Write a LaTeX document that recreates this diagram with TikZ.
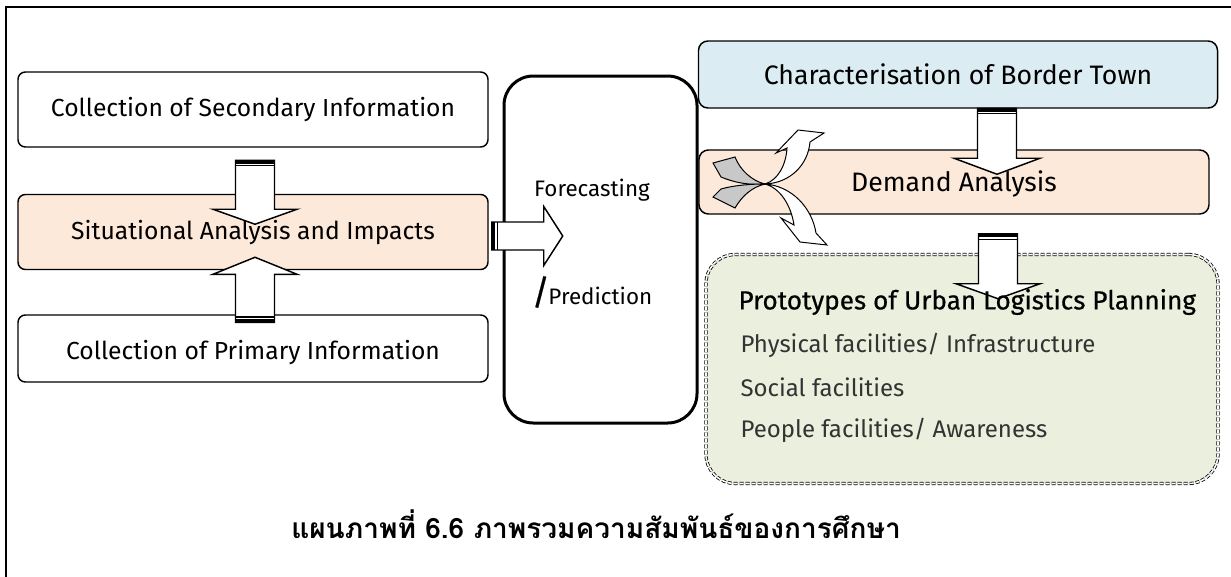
\documentclass[tikz,border=0pt]{standalone}
\usepackage{fontspec}
\setmainfont{Fira Sans}
\newfontfamily\thaifont[Script=Thai]{Loma}
\newfontfamily\headfont[FakeBold=0.6]{Fira Sans}
\usetikzlibrary{calc}

\definecolor{peach}{RGB}{253,233,218}
\definecolor{paleblue}{RGB}{219,237,243}
\definecolor{palegreen}{RGB}{235,239,222}
\definecolor{tailgray}{RGB}{200,200,200}

\tikzset{every picture/.style={line width=0.75pt}}
\tikzset{
  box/.style={draw, rounded corners=5.5pt, line width=1.1pt, inner sep=0pt},
  boxtext/.style={inner sep=0.75pt, font=\fontsize{18.5}{21}\selectfont},
  listtext/.style={anchor=west, inner sep=0.75pt, text=black!80, font=\fontsize{18}{21}\selectfont},
  pics/fatarrow/.style n args={4}{code={
    \draw[fill=white, line width=1.1pt] (0,-#2) -- ({#1-#4},-#2) -- ({#1-#4},-#3) -- (#1,0)
      -- ({#1-#4},#3) -- ({#1-#4},#2) -- (0,#2) -- cycle;
    \fill (0,-#2) rectangle (3.5,#2);
    \draw[line width=1.1pt] (5.5,-#2) -- (5.5,#2);
  }}
}

\begin{document}
\begin{tikzpicture}[x=0.75pt,y=0.75pt,yscale=-1,xscale=1]
\useasboundingbox (0,0) rectangle (1231,576);

%Frame
\draw[line width=1.1pt] (6,620) -- (6,7) -- (1260,7);

%Left column
\node[box, minimum width=352.5pt, minimum height=56.25pt] (sec) at (253,109.5) {};
\node[box, fill=peach, minimum width=352.5pt, minimum height=56.25pt] (sit) at (253,232) {};
\node[box, minimum width=352.5pt, minimum height=50.25pt] (prim) at (253,348.5) {};
%Forecasting
\node[draw, rounded corners=22pt, line width=2.25pt, minimum width=144.75pt, minimum height=260.25pt] (fore) at (600.5,249.5) {};
%Right column
\node[box, rounded corners=7pt, fill=paleblue, minimum width=389.25pt, minimum height=50.25pt] (char) at (958,74.5) {};
\node[box, rounded corners=7pt, fill=peach, minimum width=382.5pt, minimum height=48pt] (dem) at (954,182) {};
\node[draw, rounded corners=22pt, fill=palegreen, line width=0.6pt, double=white, double distance=1.2pt,
  dash pattern=on 3pt off 1.5pt, minimum width=384pt, minimum height=171.75pt] (proto) at (962,369) {};

%Curved arrows, back side
\draw[fill=tailgray] (735,157) -- (713,163) -- (721,177) .. controls (738,184) and (752,185) .. (765,184)
  .. controls (752,181) and (740,170) .. (735,157) -- cycle;
\draw[fill=tailgray] (721,189) -- (713,197) -- (735,208) .. controls (742,196) and (752,187) .. (765,184)
  .. controls (752,184) and (735,185) .. (721,189) -- cycle;
%Curved arrows, front side
\draw[fill=white] (765,184) .. controls (778,180) and (786,165) .. (787,148) -- (776,153) -- (798,130)
  -- (824,133) -- (810,142) .. controls (808,165) and (790,183) .. (765,184) -- cycle;
\draw[fill=white] (765,184) .. controls (780,188) and (791,205) .. (794,225) -- (781,218) -- (800,242)
  -- (827,245) -- (816,233) .. controls (812,208) and (792,186) .. (765,184) -- cycle;

%Block arrows
\pic[rotate=-90] at ($(sec.south)+(2,12.5)$) {fatarrow={64}{19.5}{42}{15}};
\pic[rotate=90] at ($(prim.north)+(2,8)$) {fatarrow={65}{19.5}{42}{17}};
\pic at ($(sit.east)+(3,4)$) {fatarrow={71}{14}{29.5}{19}};
\pic[rotate=-90] at ($(char.south)+(39,-0.5)$) {fatarrow={66}{19.5}{43}{16}};
\pic[rotate=-90] at ($(dem.south)+(44,19)$) {fatarrow={65}{19.5}{42}{15}};

%Texts
\node[boxtext] (sectext) at (sec) {Collection of Secondary Information};
\node[boxtext] (sittext) at (sit) {Situational Analysis and Impacts};
\node[boxtext] (primtext) at (253,352) {Collection of Primary Information};
\node[boxtext, font=\fontsize{16.8}{19}\selectfont] (foretop) at (592,190) {Forecasting};
\node[boxtext, font=\fontsize{16.8}{19}\selectfont] (forebot) at (592,292) {{\headfont\fontsize{26}{26}\selectfont/}\kern-1pt Prediction};
\node[boxtext, font=\fontsize{20}{23}\selectfont] (chartext) at (char) {Characterisation of Border Town};
\node[boxtext, font=\fontsize{20}{23}\selectfont] (demtext) at (954,184) {Demand Analysis};
\node[listtext, text=black, font=\headfont\fontsize{19.6}{22}\selectfont] (protohead) at (737,302) {Prototypes of Urban Logistics Planning};
\node[listtext] (physical) at (739,345) {Physical facilities/ Infrastructure};
\node[listtext] (social) at (739,387) {Social facilities};
\node[listtext] (people) at (739,430) {People facilities/ Awareness};

%Caption
\node[inner sep=0.75pt, font=\thaifont\bfseries\fontsize{21}{25}\selectfont] (cap) at (596,524) {แผนภาพที่ 6.6 ภาพรวมความสัมพันธ์ของการศึกษา};

\end{tikzpicture}
\end{document}
